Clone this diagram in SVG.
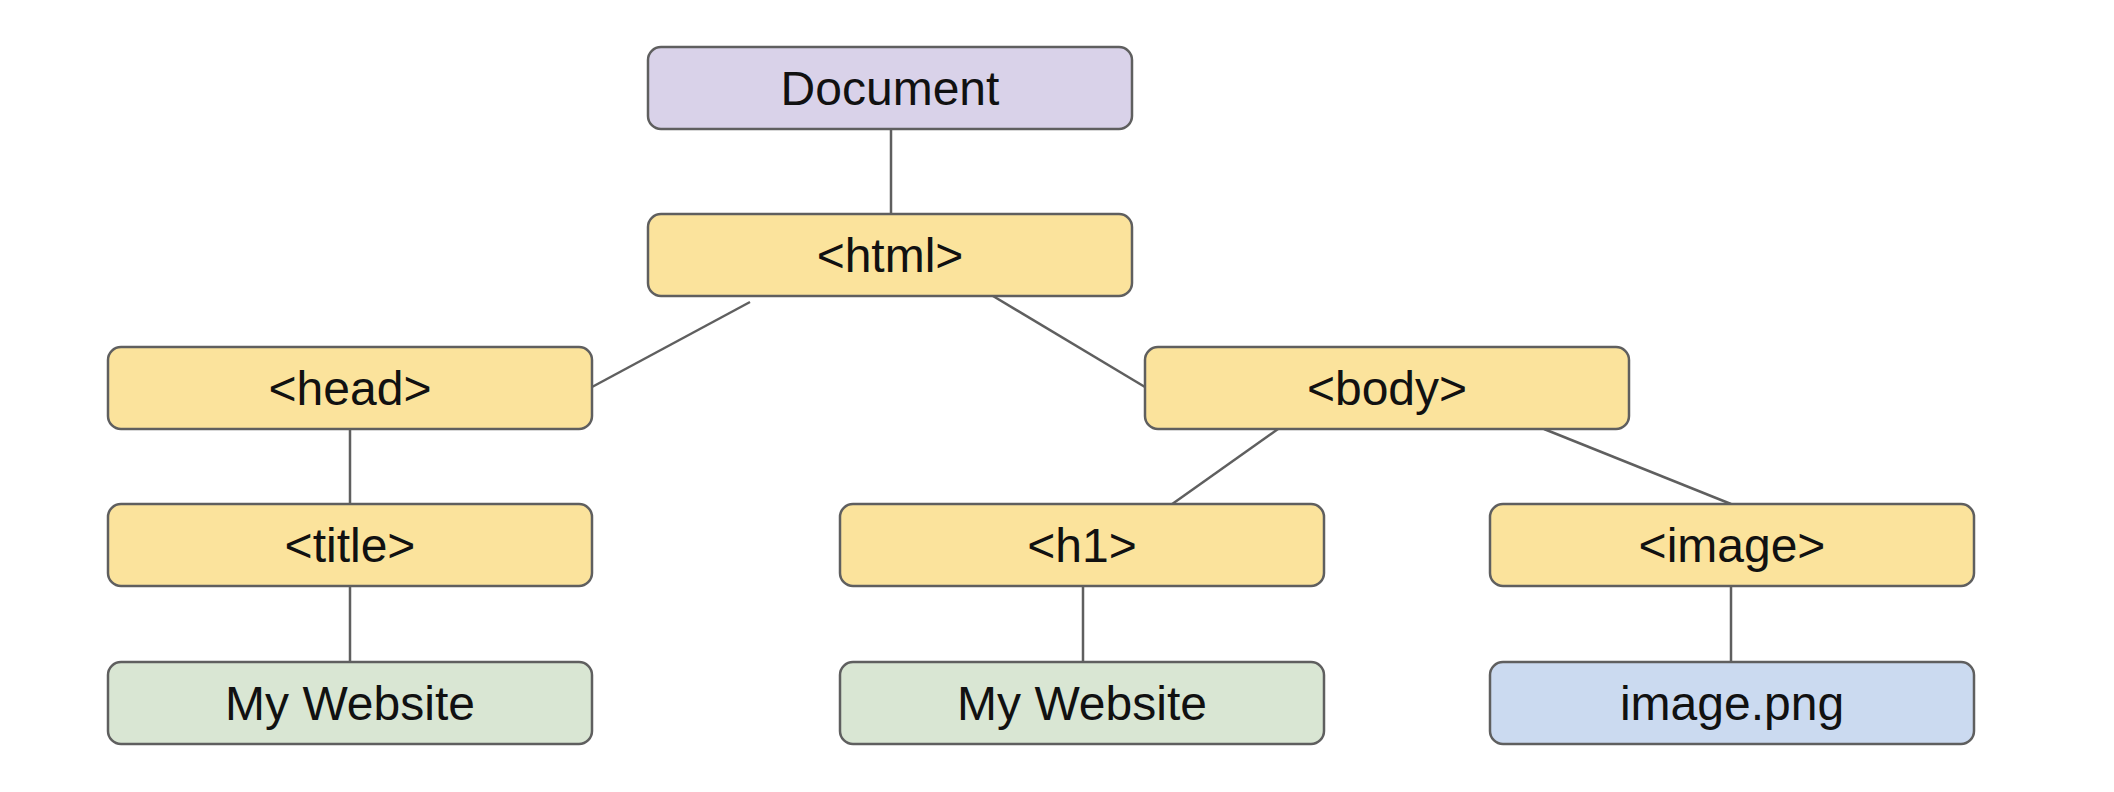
<svg xmlns="http://www.w3.org/2000/svg" width="2114" height="792" viewBox="0 0 2114 792">
<style>
.box{stroke:#5f5f5f;stroke-width:2.5}
.purple{fill:#d9d2e9}
.yellow{fill:#fbe39c}
.green{fill:#d9e6d3}
.blue{fill:#cbdaf0}
.lbl{font-family:"Liberation Sans",Arial,sans-serif;font-size:48px;fill:#111;text-anchor:middle}
.conn line{stroke:#5f5f5f;stroke-width:2.5}
</style>
<rect width="2114" height="792" fill="#ffffff"/>
<g id="connectors" class="conn">
<line x1="891" y1="129" x2="891" y2="214"/>
<line x1="750" y1="302" x2="592" y2="387"/>
<line x1="988" y1="293" x2="1145" y2="387"/>
<line x1="350" y1="429" x2="350" y2="504"/>
<line x1="350" y1="586" x2="350" y2="662"/>
<line x1="1278" y1="429" x2="1168" y2="507"/>
<line x1="1544" y1="429" x2="1731" y2="504"/>
<line x1="1083" y1="586" x2="1083" y2="662"/>
<line x1="1731" y1="586" x2="1731" y2="662"/>
</g>
<g id="document"><rect class="box purple" x="648" y="47" width="484" height="82" rx="13"/><text class="lbl" x="890" y="105">Document</text></g>
<g id="html"><rect class="box yellow" x="648" y="214" width="484" height="82" rx="13"/><text class="lbl" x="890" y="272">&lt;html&gt;</text></g>
<g id="head"><rect class="box yellow" x="108" y="347" width="484" height="82" rx="13"/><text class="lbl" x="350" y="405">&lt;head&gt;</text></g>
<g id="body"><rect class="box yellow" x="1145" y="347" width="484" height="82" rx="13"/><text class="lbl" x="1387" y="405">&lt;body&gt;</text></g>
<g id="title"><rect class="box yellow" x="108" y="504" width="484" height="82" rx="13"/><text class="lbl" x="350" y="562">&lt;title&gt;</text></g>
<g id="h1"><rect class="box yellow" x="840" y="504" width="484" height="82" rx="13"/><text class="lbl" x="1082" y="562">&lt;h1&gt;</text></g>
<g id="image"><rect class="box yellow" x="1490" y="504" width="484" height="82" rx="13"/><text class="lbl" x="1732" y="562">&lt;image&gt;</text></g>
<g id="mywebsite1"><rect class="box green" x="108" y="662" width="484" height="82" rx="13"/><text class="lbl" x="350" y="720">My Website</text></g>
<g id="mywebsite2"><rect class="box green" x="840" y="662" width="484" height="82" rx="13"/><text class="lbl" x="1082" y="720">My Website</text></g>
<g id="imagepng"><rect class="box blue" x="1490" y="662" width="484" height="82" rx="13"/><text class="lbl" x="1732" y="720">image.png</text></g>
</svg>
